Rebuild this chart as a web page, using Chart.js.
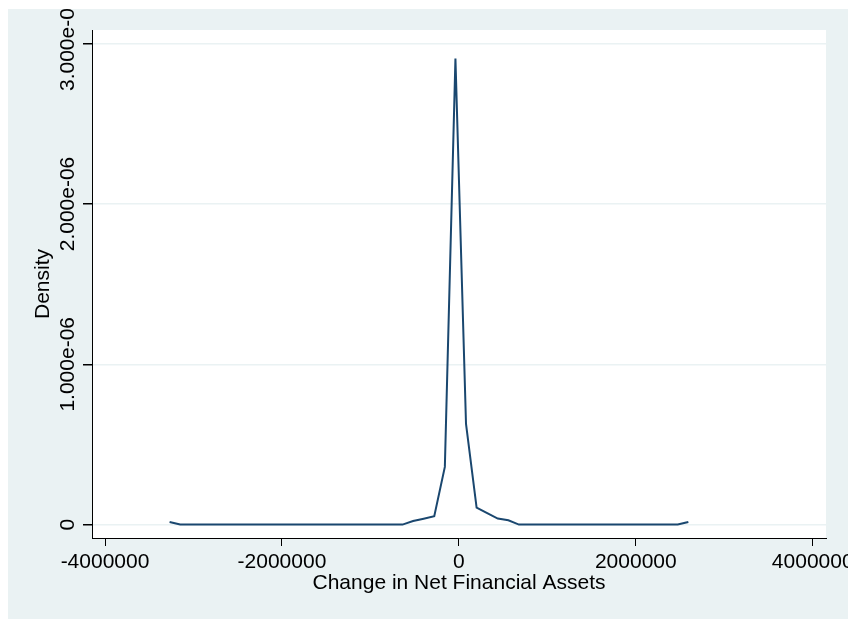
<!DOCTYPE html>
<html>
<head>
<meta charset="utf-8">
<title>Kernel density - Change in Net Financial Assets</title>
<script src="https://cdn.jsdelivr.net/npm/chart.js@4.4.0/dist/chart.umd.min.js"></script>
<style>
    html, body { margin: 0; padding: 0; background: #ffffff; }
    #wrap { position: absolute; left: 8px; top: 9px; width: 840px; height: 610px; }
</style>
</head>
<body>
<div id="wrap"><canvas id="densityChart" width="840" height="610"></canvas></div>
<script>
// Data (50 titik kdensity)
const densityX = [
    -3270000, -3150300, -3030700, -2911000, -2791300, -2671600, -2552000, -2432300, -2312600, -2192900,
    -2073300, -1953600, -1833900, -1714300, -1594600, -1474900, -1355200, -1235600, -1115900, -996200,
    -876500, -756900, -637200, -517500, -397800, -278200, -158500, -38800, 80800, 200500,
    320200, 439900, 559500, 679200, 798900, 918600, 1038200, 1157900, 1277600, 1397200,
    1516900, 1636600, 1756300, 1875900, 1995600, 2115300, 2235000, 2354600, 2474300, 2594000
];
const densityY = [
    1.6e-8, 0, 0, 0, 0, 0, 0, 0, 0, 0,
    0, 0, 0, 0, 0, 0, 0, 0, 0, 0,
    0, 0, 0, 2.25e-8, 3.7e-8, 5.2e-8, 3.60e-7, 2.908e-6, 6.28e-7, 1.06e-7,
    7.1e-8, 3.75e-8, 2.7e-8, 0, 0, 0, 0, 0, 0, 0,
    0, 0, 0, 0, 0, 0, 0, 0, 0, 1.6e-8
];
const xTickValues = [-4000000, -2000000, 0, 2000000, 4000000];
const yTickValues = [0, 1e-6, 2e-6, 3e-6];
const yTickLabels = ['0', '1.000e-06', '2.000e-06', '3.000e-06'];

const xTitle = 'Change in Net Financial Assets';
const yTitle = 'Density';

const BG = '#EAF2F3';
const LINE = '#1A476F';
const FONT = '"Liberation Sans", Arial, sans-serif';

let densityChart = null;

/**
 * Background: area luar biru muda, plot region putih
 */
const stataBackground = {
    id: 'stataBackground',
    beforeDraw(chart) {
        const ctx = chart.ctx;
        const a = chart.chartArea;
        ctx.save();
        ctx.fillStyle = BG;
        ctx.fillRect(0, 0, chart.width, chart.height);
        ctx.fillStyle = '#ffffff';
        ctx.fillRect(a.left, a.top, a.right - a.left, a.bottom - a.top);
        ctx.restore();
    }
};

/**
 * Label sumbu Y diputar 90 derajat (seperti Stata)
 */
const rotatedYLabels = {
    id: 'rotatedYLabels',
    afterDraw(chart) {
        const ctx = chart.ctx;
        const y = chart.scales.y;
        ctx.save();
        ctx.fillStyle = '#000';
        ctx.font = '21px ' + FONT;
        ctx.textAlign = 'center';
        ctx.textBaseline = 'alphabetic';
        yTickValues.forEach(function(v, i) {
            const py = y.getPixelForValue(v);
            ctx.save();
            ctx.translate(y.right - 9 - 9, py);
            ctx.rotate(-Math.PI / 2);
            ctx.fillText(yTickLabels[i], 0, 0);
            ctx.restore();
        });
        ctx.restore();
    }
};

function renderDensityChart() {
    const ctx = document.getElementById('densityChart');
    if (!ctx) return;

    Chart.defaults.font.family = FONT;
    Chart.defaults.font.size = 21;
    Chart.defaults.color = '#000';

    const points = densityX.map(function(x, i) {
        return { x: x, y: densityY[i] };
    });

    if (densityChart) {
        densityChart.destroy();
    }

    densityChart = new Chart(ctx, {
        type: 'line',
        data: {
            datasets: [{
                data: points,
                borderColor: LINE,
                borderWidth: 2,
                pointRadius: 0,
                tension: 0,
                fill: false
            }]
        },
        options: {
            responsive: false,
            animation: false,
            layout: {
                padding: { top: 21, right: 22, left: 0, bottom: 0 }
            },
            plugins: {
                legend: { display: false },
                tooltip: { enabled: false }
            },
            scales: {
                x: {
                    type: 'linear',
                    min: -4147000,
                    max: 4150000,
                    afterBuildTicks: function(scale) {
                        scale.ticks = xTickValues.map(function(v) { return { value: v }; });
                    },
                    afterFit: function(scale) {
                        scale.height = 81;
                        scale.paddingLeft = 0;
                        scale.paddingRight = 0;
                    },
                    ticks: {
                        maxRotation: 0,
                        minRotation: 0,
                        autoSkip: false,
                        padding: 4,
                        font: { size: 21 },
                        callback: function(value) { return String(value); }
                    },
                    grid: {
                        drawOnChartArea: false,
                        tickColor: '#000',
                        tickLength: 8,
                        lineWidth: 1
                    },
                    border: { color: '#000', width: 1 },
                    title: {
                        display: true,
                        text: xTitle,
                        font: { size: 21 },
                        padding: { top: 0, bottom: 23 }
                    }
                },
                y: {
                    type: 'linear',
                    min: -0.0837e-6,
                    max: 3.0856e-6,
                    afterBuildTicks: function(scale) {
                        scale.ticks = yTickValues.map(function(v) { return { value: v }; });
                    },
                    afterFit: function(scale) {
                        scale.width = 84;
                    },
                    ticks: {
                        display: false
                    },
                    grid: {
                        color: BG,
                        lineWidth: 1.5,
                        tickColor: '#000',
                        tickLength: 9
                    },
                    border: { color: '#000', width: 1 },
                    title: {
                        display: true,
                        text: yTitle,
                        font: { size: 21 },
                        padding: { top: 23, bottom: 0 }
                    }
                }
            }
        },
        plugins: [stataBackground, rotatedYLabels]
    });
}

renderDensityChart();
</script>
</body>
</html>
